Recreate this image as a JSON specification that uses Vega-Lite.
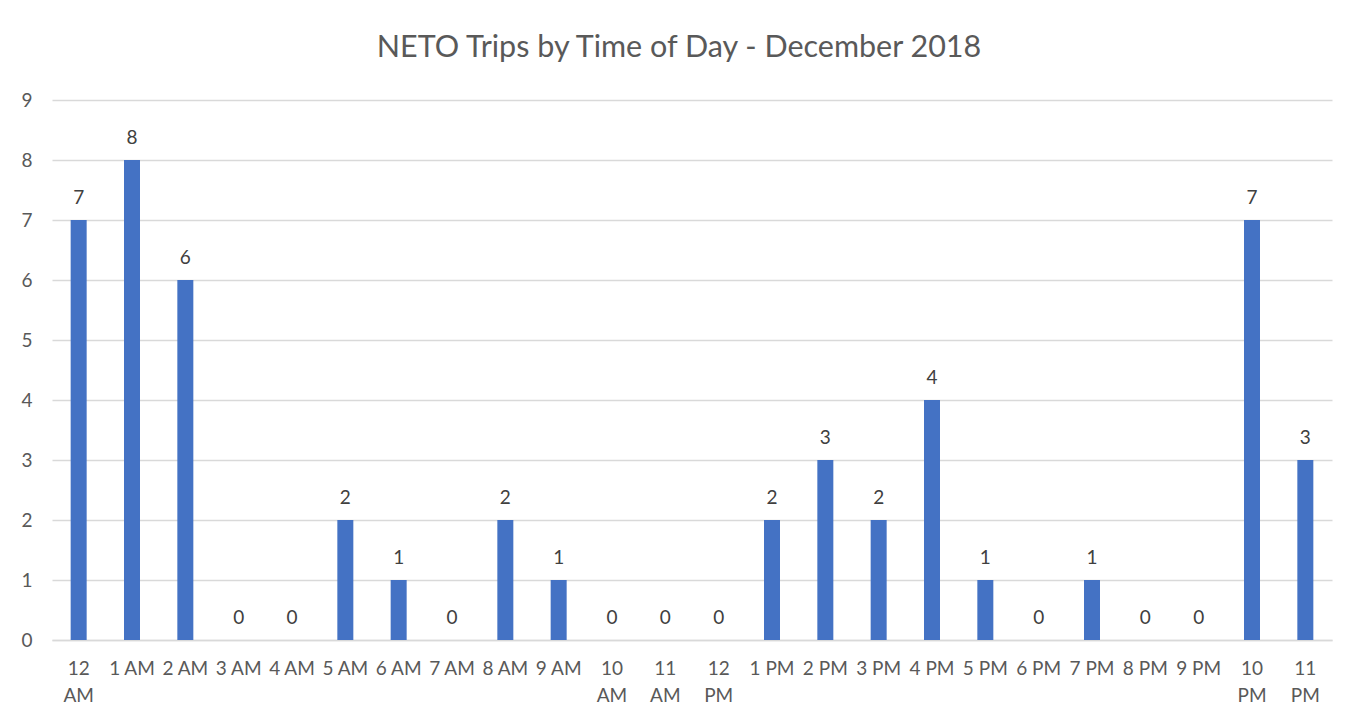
{
  "$schema": "https://vega.github.io/schema/vega-lite/v6.json",
  "width": 1280,
  "height": 540,
  "autosize": {"type": "none"},
  "padding": {"left": 52, "top": 100, "right": 24, "bottom": 79},
  "background": "white",
  "title": {
    "text": "NETO Trips by Time of Day - December 2018",
    "font": "Lato",
    "fontSize": 30.5,
    "fontWeight": 400,
    "color": "#595959",
    "anchor": "middle",
    "baseline": "alphabetic",
    "dx": -13,
    "offset": 4
  },
  "config": {
    "view": {"stroke": null},
    "font": "Lato"
  },
  "data": {
    "values": [
      {"hour": "12 AM", "trips": 7},
      {"hour": "1 AM", "trips": 8},
      {"hour": "2 AM", "trips": 6},
      {"hour": "3 AM", "trips": 0},
      {"hour": "4 AM", "trips": 0},
      {"hour": "5 AM", "trips": 2},
      {"hour": "6 AM", "trips": 1},
      {"hour": "7 AM", "trips": 0},
      {"hour": "8 AM", "trips": 2},
      {"hour": "9 AM", "trips": 1},
      {"hour": "10 AM", "trips": 0},
      {"hour": "11 AM", "trips": 0},
      {"hour": "12 PM", "trips": 0},
      {"hour": "1 PM", "trips": 2},
      {"hour": "2 PM", "trips": 3},
      {"hour": "3 PM", "trips": 2},
      {"hour": "4 PM", "trips": 4},
      {"hour": "5 PM", "trips": 1},
      {"hour": "6 PM", "trips": 0},
      {"hour": "7 PM", "trips": 1},
      {"hour": "8 PM", "trips": 0},
      {"hour": "9 PM", "trips": 0},
      {"hour": "10 PM", "trips": 7},
      {"hour": "11 PM", "trips": 3}
    ]
  },
  "encoding": {
    "x": {
      "field": "hour",
      "type": "nominal",
      "sort": null,
      "scale": {"paddingInner": 0.7, "paddingOuter": 0.35},
      "axis": {
        "title": null,
        "labelAngle": 0,
        "ticks": false,
        "domain": true,
        "domainColor": "#D9D9D9",
        "domainWidth": 1.5,
        "labelFont": "Lato",
        "labelFontSize": 19,
        "labelColor": "#595959",
        "labelPadding": 19,
        "labelLineHeight": 27,
        "labelBaseline": "top",
        "labelOverlap": false,
        "labelExpr": "length(datum.label) > 4 ? split(datum.label, ' ') : datum.label"
      }
    },
    "y": {
      "field": "trips",
      "type": "quantitative",
      "scale": {"domain": [0, 9], "nice": false},
      "axis": {
        "title": null,
        "values": [0, 1, 2, 3, 4, 5, 6, 7, 8, 9],
        "ticks": false,
        "domain": false,
        "labelOverlap": false,
        "gridColor": "#D9D9D9",
        "gridWidth": 1.5,
        "labelFont": "Lato",
        "labelFontSize": 19,
        "labelColor": "#595959",
        "labelPadding": 20
      }
    }
  },
  "layer": [
    {"mark": {"type": "bar", "color": "#4472C4"}},
    {
      "mark": {"type": "text", "baseline": "bottom", "dy": -12, "font": "Lato", "fontSize": 19, "color": "#404040"},
      "encoding": {"text": {"field": "trips", "type": "quantitative"}}
    }
  ]
}
